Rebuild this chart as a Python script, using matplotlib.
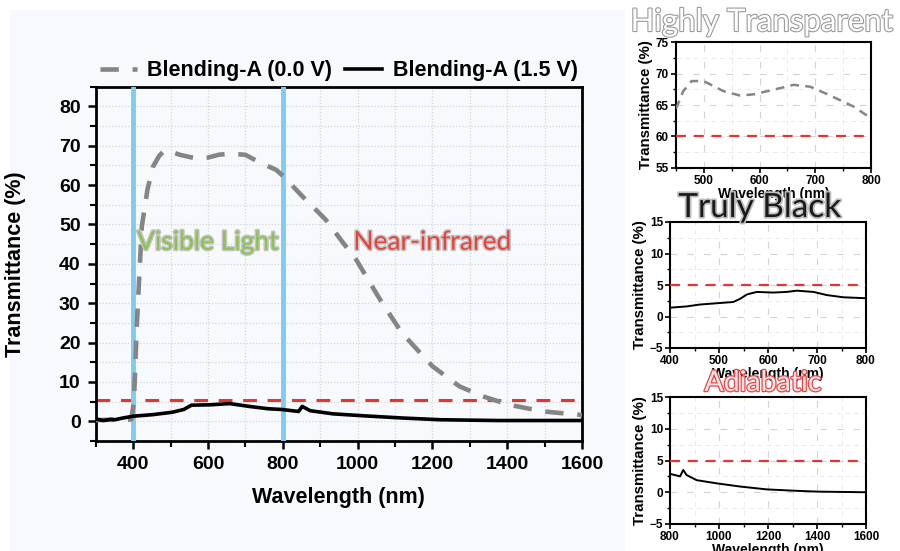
import numpy as np
import matplotlib.pyplot as plt
import matplotlib.patheffects as pe
from matplotlib.patches import Rectangle
from matplotlib.ticker import MultipleLocator

# Blending-A transmittance spectra
wl_off = [300, 340, 380, 395, 402, 410, 423, 438, 453, 470, 484, 500, 525, 567, 600, 628,
          659, 700, 741, 782, 802, 853, 915, 960, 996, 1057, 1118, 1200, 1272, 1333,
          1405, 1497, 1600]
t_off = [0.3, 0.4, 0.3, 0.5, 5, 25, 49.5, 58.8, 64.7, 67.5, 68.8, 68.5, 67.7, 66.8, 67.0,
         67.7, 68.0, 67.7, 65.6, 63.9, 62.2, 57.1, 51.2, 45.5, 41.1, 31.4, 22.5, 14.0,
         8.9, 6.4, 4.2, 2.5, 1.6]

wl_on = [300, 320, 340, 351, 370, 400, 453, 504, 535, 556, 607, 658, 709, 760, 798, 842,
         852, 873, 934, 1016, 1118, 1221, 1374, 1600]
t_on = [0.6, 0.2, 0.5, 0.4, 0.8, 1.3, 1.7, 2.3, 3.0, 4.1, 4.2, 4.5, 3.8, 3.2, 3.0, 2.5,
        3.8, 2.7, 1.9, 1.4, 0.85, 0.4, 0.2, 0.2]

# zoomed views
wl_vis = [450, 463, 478, 499, 511, 535, 565, 590, 614, 638, 661, 691, 722, 746, 770, 788, 800]
t_vis = [64.4, 67.2, 68.8, 68.8, 68.3, 67.2, 66.5, 66.7, 67.2, 67.7, 68.2, 67.9, 66.7,
         65.7, 64.7, 63.6, 63.0]

wl_blk = [400, 434, 461, 495, 529, 543, 557, 577, 611, 638, 659, 693, 720, 754, 800]
t_blk = [1.4, 1.6, 1.9, 2.1, 2.3, 2.8, 3.5, 3.9, 3.8, 3.9, 4.1, 3.9, 3.4, 3.05, 2.9]

wl_nir = [800, 841, 854, 868, 909, 991, 1086, 1195, 1302, 1400, 1600]
t_nir = [2.9, 2.5, 3.5, 2.7, 1.9, 1.4, 0.9, 0.45, 0.25, 0.1, 0.0]

region_edges = [400, 800]
threshold_main = 5.3
legend_labels = ['Blending-A (0.0 V)', 'Blending-A (1.5 V)']

GRAY = '#858585'
RED = '#e8342e'
BLUE = '#80cbee'
SANS = ['Liberation Sans', 'DejaVu Sans']
SOFT = ['Lato', 'DejaVu Sans']

W, H = 900, 551


def box(left, top, right, bottom):
    return [left / W, 1 - bottom / H, (right - left) / W, (bottom - top) / H]


fig = plt.figure(figsize=(9, 5.51), dpi=100)
fig.patch.set_facecolor('white')
fig.patches.append(Rectangle((10 / W, 0), 615 / W, 1 - 10 / H, transform=fig.transFigure,
                             facecolor='#f7f9fc', edgecolor='none', zorder=-10))

# main panel
ax = fig.add_axes(box(95.8, 86.7, 582, 441))
ax.set_facecolor('none')
ax.plot(wl_off, t_off, color=GRAY, lw=3.3, dashes=(4.0, 3.0), label=legend_labels[0], zorder=4)
ax.plot(wl_on, t_on, color='black', lw=2.6, label=legend_labels[1], zorder=5)
for x in region_edges:
    ax.axvline(x, color=BLUE, lw=3.5, zorder=3)
ax.axhline(threshold_main, color=RED, lw=2.2, dashes=(4.5, 3.5), zorder=2)

ax.set_xlim(300, 1600)
ax.set_ylim(-5, 85)
ax.xaxis.set_major_locator(MultipleLocator(200))
ax.xaxis.set_minor_locator(MultipleLocator(100))
ax.yaxis.set_major_locator(MultipleLocator(10))
ax.yaxis.set_minor_locator(MultipleLocator(5))
ax.set_xticks(range(400, 1601, 200))
ax.grid(True, which='both', color='#d6d6d6', lw=0.9, ls=(0, (1, 1.5)), zorder=0)
ax.tick_params(which='major', direction='out', length=6, width=1.8, pad=5)
ax.tick_params(which='minor', direction='out', length=4, width=1.5)
for s in ax.spines.values():
    s.set_linewidth(2)
for lab in ax.get_xticklabels() + ax.get_yticklabels():
    lab.set_fontfamily(SANS)
    lab.set_fontweight('bold')
    lab.set_fontsize(14)
ax.set_xlabel('Wavelength (nm)', family=SANS, weight='bold', fontsize=15.5, labelpad=10)
ax.set_ylabel('Transmittance (%)', family=SANS, weight='bold', fontsize=15.5)
ax.yaxis.set_label_coords(-70 / 486, 0.5)

leg = ax.legend(loc='lower center', bbox_to_anchor=(0.5, 0.985), ncol=2, frameon=False,
                prop={'family': SANS, 'weight': 'bold', 'size': 15.5}, handlelength=1.7,
                columnspacing=0.6, handletextpad=0.5, borderaxespad=0.1)

halo = [pe.withStroke(linewidth=2.2, foreground='#c4c4c4')]
ax.text(600, 45.5, 'Visible Light', color='#8cc24d', family=SOFT, fontsize=19,
        ha='center', va='center', path_effects=halo, zorder=6)
ax.text(1200, 45.5, 'Near-infrared', color='#e8423c', family=SOFT, fontsize=19,
        ha='center', va='center', path_effects=halo, zorder=6)


def inset(rect, xs, ys, style, xlim, ylim, xmaj, xmin, ymaj, ymin, thr):
    a = fig.add_axes(rect)
    a.set_facecolor('white')
    if style == 'dash':
        a.plot(xs, ys, color=GRAY, lw=1.8, dashes=(3.5, 2.5), zorder=4)
    else:
        a.plot(xs, ys, color='black', lw=1.4, zorder=4)
    a.axhline(thr, color=RED, lw=1.6, dashes=(4.5, 3.5), zorder=3)
    a.set_xlim(*xlim)
    a.set_ylim(*ylim)
    a.xaxis.set_major_locator(MultipleLocator(xmaj))
    a.xaxis.set_minor_locator(MultipleLocator(xmin))
    a.yaxis.set_major_locator(MultipleLocator(ymaj))
    a.yaxis.set_minor_locator(MultipleLocator(ymin))
    a.grid(True, which='major', color='#d4d4d4', lw=0.8, ls=(0, (6, 9)), zorder=0)
    a.grid(True, which='minor', color='#ececec', lw=0.7, ls=(0, (5, 4)), zorder=0)
    a.tick_params(which='major', direction='out', length=3.5, width=1.2, pad=1.5)
    a.tick_params(which='minor', direction='out', length=2, width=1)
    for s in a.spines.values():
        s.set_linewidth(1.5)
    for lab in a.get_xticklabels() + a.get_yticklabels():
        lab.set_fontfamily(SANS)
        lab.set_fontweight('bold')
        lab.set_fontsize(8.5)
    a.set_xlabel('Wavelength (nm)', family=SANS, weight='bold', fontsize=10, labelpad=0)
    a.set_ylabel('Transmittance (%)', family=SANS, weight='bold', fontsize=10.8, labelpad=2)
    return a


ax1 = inset(box(676, 42, 871, 168), wl_vis, t_vis, 'dash', (450, 800), (55, 75),
            100, 50, 5, 2.5, 60)
ax2 = inset(box(670, 222, 866, 348), wl_blk, t_blk, 'solid', (400, 800), (-5, 15),
            100, 50, 5, 2.5, 5)
ax3 = inset(box(670, 397, 866, 524), wl_nir, t_nir, 'solid', (800, 1600), (-5, 15),
            200, 100, 5, 2.5, 5)

# panel titles
fig.text(762 / W, 1 - 22 / H, 'Highly Transparent', color='white', family=SOFT, fontsize=22.5,
         ha='center', va='center', zorder=20,
         path_effects=[pe.withStroke(linewidth=1.6, foreground='#9a9a9a')])
fig.text(760 / W, 1 - 208 / H, 'Truly Black', color='#1a1a1a', family=SOFT, fontsize=24,
         ha='center', va='center', zorder=20,
         path_effects=[pe.withStroke(linewidth=2.5, foreground='#bdbdbd')])
fig.text(763 / W, 1 - 383 / H, 'Adiabatic', color='#fbe3e3', family=SOFT, fontsize=20.5,
         ha='center', va='center', zorder=20,
         path_effects=[pe.withStroke(linewidth=1.8, foreground='#e0484a')])

fig.savefig('out.png', dpi=100)
